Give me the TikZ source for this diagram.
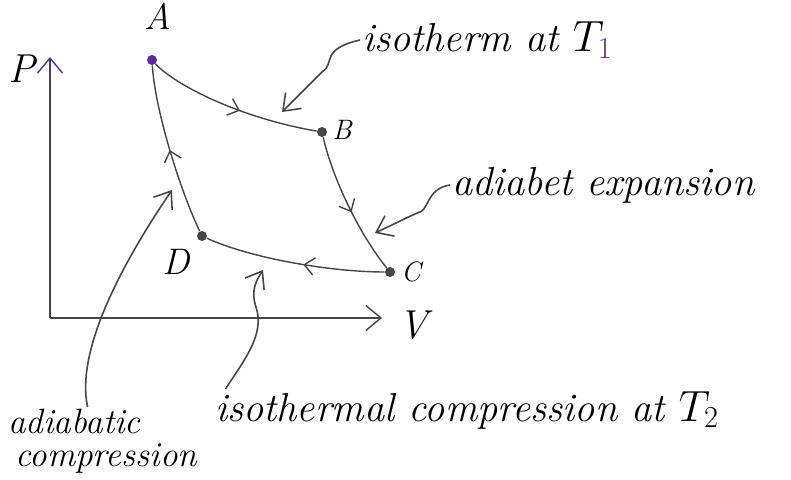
\documentclass[tikz,border=0pt]{standalone}
\usepackage{fontspec}
\usepackage{tikz}
\usetikzlibrary{arrows.meta, positioning, decorations.markings}
\definecolor{ink}{HTML}{454545}
\definecolor{penviolet}{HTML}{5B2C9F}

\begin{document}
\begin{tikzpicture}[
    font=\fontsize{23}{26}\selectfont\itshape,
    state/.style={circle, fill=ink, inner sep=0pt, minimum size=2mm},
    leg/.style={thick, draw=ink, postaction={decorate}, decoration={markings, mark=at position #1 with {\arrow{Straight Barb[length=2mm,width=3.5mm]}}}},
    pointer/.style={line width=0.9pt, draw=ink, -{Straight Barb[length=3mm,width=4.5mm]}},
    axis/.style={thick, draw=ink, -{Straight Barb[length=3mm,width=5mm]}},
    lbl/.style={inner sep=1pt, text=black}
]
\useasboundingbox (0,0) rectangle (15.82,9.58);

% axes
\coordinate (O) at (1.00,3.22);
\coordinate (Ptop) at (1.00,8.44);
\coordinate (Vend) at (7.64,3.22);
\draw[axis, -{Straight Barb[length=3mm,width=5mm,color=penviolet]}] (O) -- (Ptop);
\draw[axis] (O) -- (Vend);
\node[lbl] (Plbl) at (0.44,8.2) {P};
\node[lbl] (Vlbl) at (8.26,3.08) {V};

% states of the cycle
\node[state, fill=penviolet] (A) at (3.04,8.38) {};
\node[state] (B) at (6.44,6.94) {};
\node[state] (C) at (7.80,4.14) {};
\node[state] (D) at (4.04,4.86) {};
\node[lbl, font=\fontsize{21}{23}\selectfont\itshape] (Albl) at (3.16,9.25) {A};
\node[lbl, font=\fontsize{16}{18}\selectfont\itshape] (Blbl) at (6.84,6.98) {B};
\node[lbl, font=\fontsize{16}{18}\selectfont\itshape] (Clbl) at (8.22,4.14) {C};
\node[lbl, font=\fontsize{21}{23}\selectfont\itshape] (Dlbl) at (3.52,4.34) {D};

\draw[leg=0.55] (A) .. controls (3.5,7.88) and (4.8,7.22) .. (B);
\draw[leg=0.55] (B) .. controls (6.66,5.98) and (7.2,4.88) .. (C);
\draw[leg=0.45] (C) .. controls (6.6,4.14) and (5.0,4.42) .. (D);
\draw[leg=0.5] (D) .. controls (3.6,5.78) and (3.1,7.38) .. (A);

% annotations
\node[lbl, anchor=west] (isoT1) at (7.2,8.78) {isotherm at $T_{\color{penviolet}1}$};
\coordinate (tipT1) at (5.64,7.34);
\draw[pointer] (isoT1.west) .. controls (6.4,8.6) and (6.7,8.3) .. (6.45,8.15) -- (tipT1);

\node[lbl, align=left, anchor=north west, font=\fontsize{20}{19}\selectfont\itshape] (adComp) at (0.12,1.44) {adiabatic\\\hspace{0.15cm}compression};
\coordinate (tipAdC) at (3.44,5.78);
\draw[pointer] ([xshift=-0.3cm]adComp.north) .. controls (1.5,2.6) and (2.5,4.4) .. (tipAdC);

\node[lbl, anchor=west] (adExp) at (9.0,5.88) {adiabet expansion};
\coordinate (tipExp) at (7.5,4.92);
\draw[pointer] (adExp.west) .. controls (8.5,5.8) and (8.6,5.35) .. (8.34,5.32) -- (tipExp);

\node[lbl, anchor=west] (isoComp) at (4.26,1.38) {isothermal compression at $T_2$};
\coordinate (tipIsoC) at (5.26,4.18);
\draw[pointer] ([xshift=0.25cm]isoComp.north west) .. controls (4.9,2.4) and (5.3,2.9) .. (5.12,3.44) .. controls (5.0,3.8) and (5.15,4.0) .. (tipIsoC);
\end{tikzpicture}
\end{document}
